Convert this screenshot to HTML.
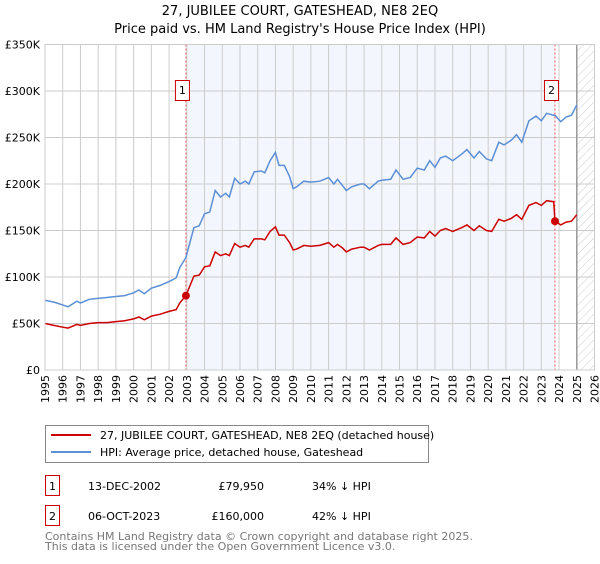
<!DOCTYPE html>
<html><head><meta charset="utf-8"><style>
body{margin:0;background:#fff;font-family:"DejaVu Sans","Liberation Sans",sans-serif;}
svg text{font-family:"DejaVu Sans","Liberation Sans",sans-serif;}
</style></head><body>
<svg id="chart" width="600" height="560" xmlns="http://www.w3.org/2000/svg">
<defs><pattern id="hatch" width="6" height="6" patternUnits="userSpaceOnUse" patternTransform="rotate(45)"><line x1="0" y1="0" x2="0" y2="6" stroke="#ccc" stroke-width="1"/></pattern></defs>
<text x="300" y="15" text-anchor="middle" font-size="13">27, JUBILEE COURT, GATESHEAD, NE8 2EQ</text>
<text x="300" y="33" text-anchor="middle" font-size="13">Price paid vs. HM Land Registry's House Price Index (HPI)</text>
<g id="plot"></g>
<rect x="45.5" y="425.5" width="383" height="37" fill="#fff" stroke="#888"/>
<line x1="51" y1="435" x2="91" y2="435" stroke="#cc0000" stroke-width="2"/>
<text x="100" y="439" font-size="11">27, JUBILEE COURT, GATESHEAD, NE8 2EQ (detached house)</text>
<line x1="51" y1="452" x2="91" y2="452" stroke="#5b8fd6" stroke-width="2"/>
<text x="100" y="456" font-size="11">HPI: Average price, detached house, Gateshead</text>
<rect x="45.5" y="475.5" width="14" height="20" fill="#fff" stroke="#cc0000"/>
<text x="52.5" y="490" text-anchor="middle" font-size="11">1</text>
<text x="88" y="490" font-size="11">13-DEC-2002</text>
<text x="264" y="490" text-anchor="end" font-size="11">£79,950</text>
<text x="312" y="490" font-size="11">34% ↓ HPI</text>
<rect x="45.5" y="505.5" width="14" height="20" fill="#fff" stroke="#cc0000"/>
<text x="52.5" y="520" text-anchor="middle" font-size="11">2</text>
<text x="88" y="520" font-size="11">06-OCT-2023</text>
<text x="264" y="520" text-anchor="end" font-size="11">£160,000</text>
<text x="312" y="520" font-size="11">42% ↓ HPI</text>
<text x="45" y="540" font-size="11" fill="#777">Contains HM Land Registry data © Crown copyright and database right 2025.</text>
<text x="45" y="550" font-size="11" fill="#777">This data is licensed under the Open Government Licence v3.0.</text>
</svg>
<script>
const hpiYears=[1995.0,1995.5,1996.0,1996.3,1996.8,1997.0,1997.5,1998.0,1998.5,1999.0,1999.5,2000.0,2000.3,2000.6,2001.0,2001.5,2002.0,2002.4,2002.6,2002.95,2003.4,2003.7,2004.0,2004.3,2004.6,2004.9,2005.2,2005.4,2005.7,2006.0,2006.3,2006.5,2006.8,2007.2,2007.4,2007.7,2008.0,2008.2,2008.5,2008.8,2009.0,2009.2,2009.6,2010.0,2010.5,2011.0,2011.3,2011.5,2011.8,2012.0,2012.3,2012.8,2013.0,2013.3,2013.8,2014.0,2014.5,2014.8,2015.2,2015.6,2016.0,2016.4,2016.7,2017.0,2017.3,2017.6,2018.0,2018.5,2018.8,2019.2,2019.5,2019.9,2020.2,2020.6,2020.9,2021.3,2021.6,2021.9,2022.3,2022.7,2023.0,2023.3,2023.7,2023.77,2024.1,2024.4,2024.7,2025.0];
const hpiValues=[75,73,70,68,74,72,76,77,78,79,80,83,86,82,88,91,95,99,110,121,153,155,168,170,193,186,190,186,206,200,203,200,213,214,212,225,234,220,220,208,195,197,203,202,203,207,200,205,198,193,197,200,200,195,203,204,205,215,205,207,217,215,225,218,228,230,225,232,237,228,235,227,225,245,242,247,253,245,268,273,268,276,274,274,267,272,274,285];
const priceValues=[50,48,46,45,49,48,50,51,51,52,53,55,57,54,58,60,63,65,72,80,101,102,111,112,127,123,125,123,136,132,134,132,141,141,140,149,154,145,145,137,129,130,134,133,134,137,132,135,131,127,130,132,132,129,134,135,135,142,135,137,143,142,149,144,150,152,149,153,156,150,155,150,149,162,160,163,167,162,177,180,177,182,181,160,156,159,160,167];
const saleYears=[2002.95,2023.77];
const salePrices=[79.95,160];
const saleLabels=["1","2"];
const yTicks=[0,50,100,150,200,250,300,350];
const yTickLabels=["£0","£50K","£100K","£150K","£200K","£250K","£300K","£350K"];
const xTicks=[1995,1996,1997,1998,1999,2000,2001,2002,2003,2004,2005,2006,2007,2008,2009,2010,2011,2012,2013,2014,2015,2016,2017,2018,2019,2020,2021,2022,2023,2024,2025,2026];
const NS="http://www.w3.org/2000/svg";
const L=45,R=594.5,T=44.5,B=370;
const x=v=>L+(v-1995)/(2026-1995)*(R-L);
const y=v=>B-v/350*(B-T);
const g=document.getElementById('plot');
function mk(t,a){const e=document.createElementNS(NS,t);for(const k in a)e.setAttribute(k,a[k]);g.appendChild(e);return e;}
let e=mk('rect',{x:x(saleYears[0]),y:T,width:x(saleYears[1])-x(saleYears[0]),height:B-T,fill:'#f3f6fd'});


e=mk('rect',{x:x(2025),y:T,width:R-x(2025),height:B-T,fill:'url(#hatch)'});


xTicks.forEach(t=>{
 e=mk('line',{x1:x(t),x2:x(t),y1:T,y2:B,stroke:'#ccc','stroke-width':1});
 
 
 const tx=mk('text',{x:0,y:0,'font-size':11,'text-anchor':'end',transform:`translate(${x(t)+4},${B+5}) rotate(-90)`});
 tx.textContent=t;
 
 
});
yTicks.forEach((t,i)=>{
 e=mk('line',{x1:L,x2:R,y1:y(t),y2:y(t),stroke:'#ccc','stroke-width':1});
 
 
 const tx=mk('text',{x:L-5,y:y(t)+4,'font-size':11,'text-anchor':'end'});
 tx.textContent=yTickLabels[i];
 
 
});
e=mk('line',{x1:x(2025),x2:x(2025),y1:T,y2:B,stroke:'#999','stroke-width':1.5});


saleYears.forEach((s,i)=>{
 e=mk('line',{x1:x(s),x2:x(s),y1:T,y2:B,stroke:'#e55','stroke-width':1,'stroke-dasharray':'2,2'});
 
 
});
const pts=(vals)=>hpiYears.map((yr,i)=>x(yr).toFixed(1)+','+y(vals[i]).toFixed(1)).join(' ');
e=mk('polyline',{points:pts(hpiValues),fill:'none',stroke:'#5b8fd6','stroke-width':1.5});


e=mk('polyline',{points:pts(priceValues),fill:'none',stroke:'#cc0000','stroke-width':1.5});


saleYears.forEach((s,i)=>{
 e=mk('circle',{cx:x(s),cy:y(salePrices[i]),r:4,fill:'#cc0000'});
 
 
 const bx=mk('rect',{x:x(s)-10.5,y:80.5,width:14,height:20,fill:'#fff',stroke:'#cc0000'});
 
 
 const tx=mk('text',{x:x(s)-3.5,y:94,'font-size':11,'text-anchor':'middle'});
 tx.textContent=saleLabels[i];
 
 
});
e=mk('rect',{x:L,y:T,width:R-L,height:B-T,fill:'none',stroke:'#ccc'});


</script>
</body></html>
